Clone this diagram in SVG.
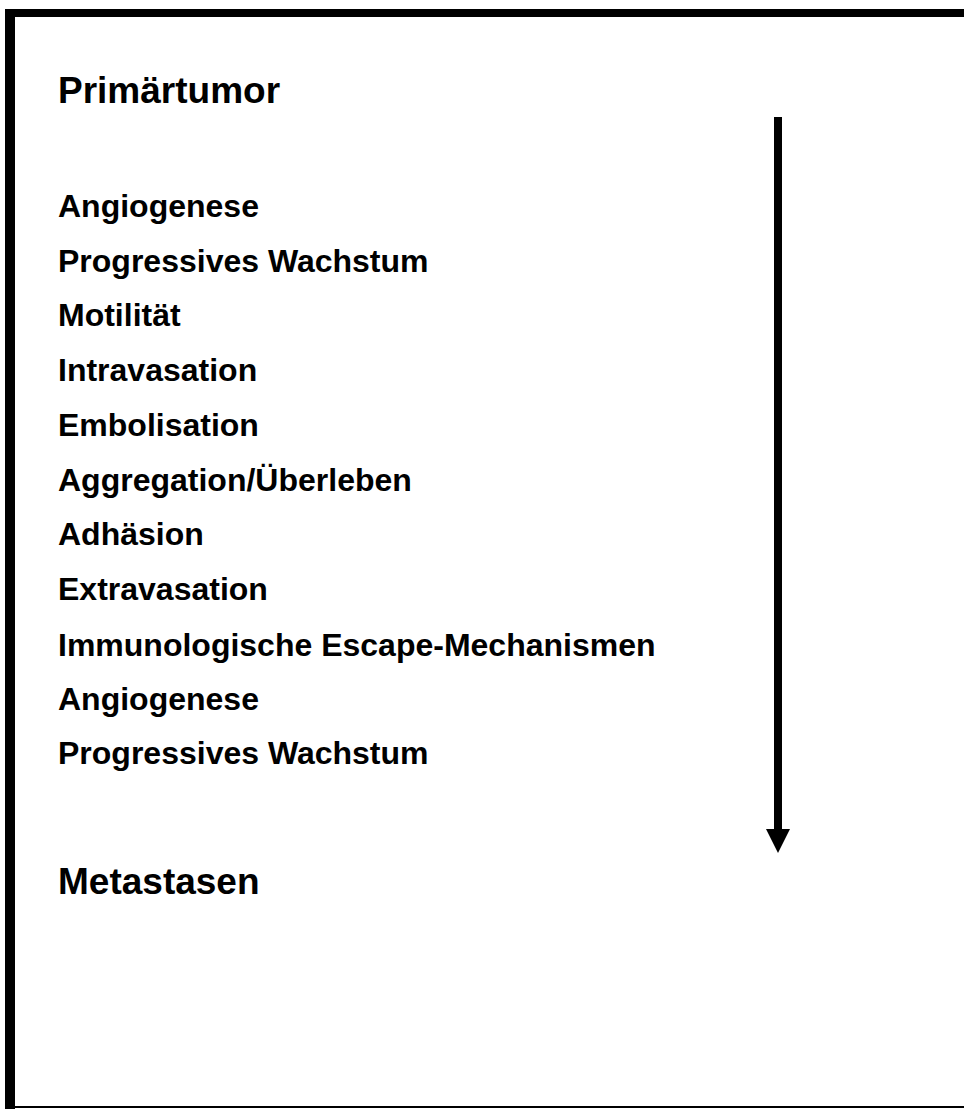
<svg xmlns="http://www.w3.org/2000/svg" width="964" height="1109" viewBox="0 0 964 1109">
<style>
.t{font-family:"Liberation Sans",Arial,sans-serif;font-weight:bold;fill:#000}
.h{font-size:37px}
.i{font-size:32px}
</style>
<rect width="964" height="1109" fill="#fff"/>
<g id="frame">
<rect x="5" y="9" width="959" height="8" fill="#000"/>
<rect x="5" y="9" width="10" height="1100" fill="#000"/>
<rect x="5" y="1106" width="959" height="2" fill="#000"/>
</g>
<g id="connectors">
<rect x="774" y="117" width="8" height="714" fill="#000"/>
<polygon points="766,829 790,829 778,853" fill="#000"/>
</g>
<g id="primaertumor"><text class="t h" x="58" y="103">Primärtumor</text></g>
<g id="steps">
<text class="t i" x="58" y="217">Angiogenese</text>
<text class="t i" x="58" y="272">Progressives Wachstum</text>
<text class="t i" x="58" y="326">Motilität</text>
<text class="t i" x="58" y="381">Intravasation</text>
<text class="t i" x="58" y="436">Embolisation</text>
<text class="t i" x="58" y="491">Aggregation/Überleben</text>
<text class="t i" x="58" y="545">Adhäsion</text>
<text class="t i" x="58" y="600">Extravasation</text>
<text class="t i" x="58" y="656">Immunologische Escape-Mechanismen</text>
<text class="t i" x="58" y="710">Angiogenese</text>
<text class="t i" x="58" y="764">Progressives Wachstum</text>
</g>
<g id="metastasen"><text class="t h" x="58" y="894">Metastasen</text></g>
</svg>
